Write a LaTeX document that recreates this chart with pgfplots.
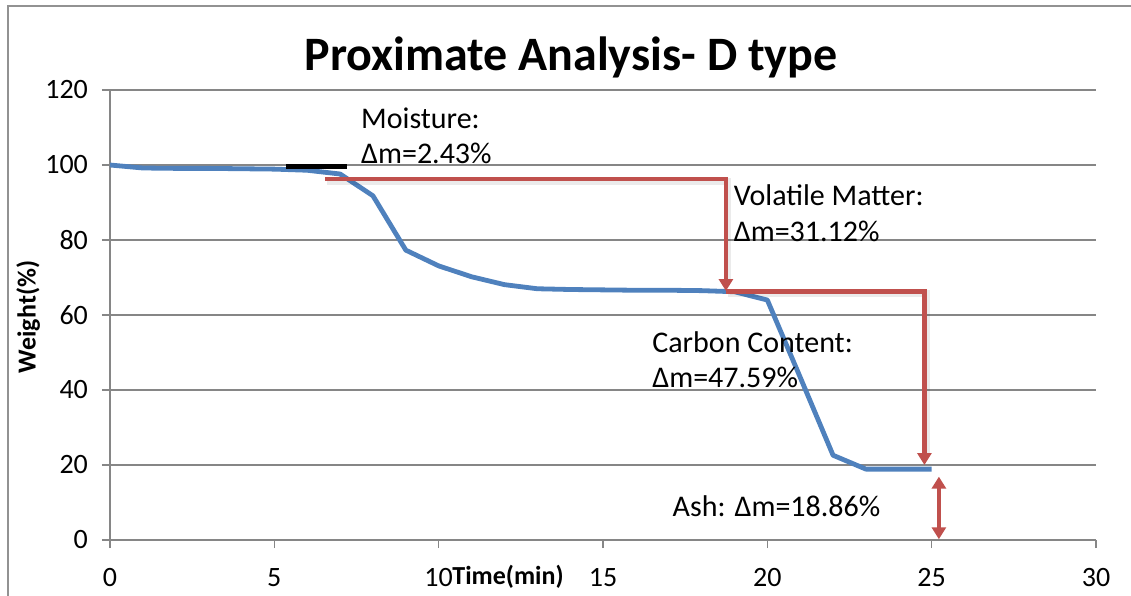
\documentclass[border=0pt]{standalone}
\usepackage{fontspec}
\setmainfont{Carlito}
\usepackage{pgfplots}
\pgfplotsset{compat=1.18}
\usetikzlibrary{arrows.meta}
\definecolor{exblue}{HTML}{4F81BD}
\definecolor{exred}{HTML}{C0504D}
\definecolor{gridgray}{HTML}{868686}
\begin{document}
\begin{tikzpicture}
\begin{scope}[x=0.5pt,y=-0.5pt]
\useasboundingbox (0,0) rectangle (1131,593);
\draw[gridgray!90, line width=1pt] (8,700) -- (8,6) -- (1200,6);
\node[font=\fontsize{24}{28}\selectfont\bfseries] at (571,57) {Proximate Analysis- D type};
\end{scope}
\begin{axis}[
  at={(55pt,-270pt)}, anchor=south west,
  scale only axis, width=493pt, height=225pt,
  xmin=0, xmax=30, ymin=0, ymax=120,
  xtick={0,5,...,30}, ytick={0,20,...,120},
  axis x line=bottom, axis y line=left,
  axis line style={-, gridgray, line width=0.8pt},
  tick style={gridgray, line width=0.8pt},
  tick align=outside, major tick length=4pt,
  ymajorgrids, grid style={gridgray, line width=0.7pt},
  /pgf/number format/assume math mode=true,
  ticklabel style={font=\fontsize{14}{16}\selectfont},
  xticklabel style={yshift=-6.5pt},
  yticklabel style={xshift=-3.5pt},
  xlabel={Time(min)}, ylabel={Weight(\%)},
  label style={font=\fontsize{13}{15}\selectfont\bfseries},
  xlabel style={at={(axis description cs:0.4037,-0.082)}, anchor=center},
  ylabel style={at={(axis description cs:-0.083,0.4956)}, anchor=center},
  clip=false,
]
\addplot[exblue, line width=2.4pt, line join=round] coordinates {
(0,100) (1,99.2) (2,99.1) (3,99.1) (4,99.0) (5,98.9) (6,98.6) (7,97.6)
(8,91.8) (9,77.3) (10,73.1) (11,70.2) (12,68.1) (13,67.0) (14,66.8)
(15,66.7) (16,66.6) (17,66.6) (18,66.5) (19,66.2) (20,64.0) (21,43.4)
(22,22.6) (23,18.9) (24,18.9) (25,18.9)};
\addplot[black, line width=2.5pt] coordinates {(5.36,99.55) (7.2,99.55)};
% shadows
\addplot[black, opacity=0.08, line width=3.5pt, xshift=0.8pt, yshift=-1.2pt] coordinates {(6.55,96.3) (18.74,96.3) (18.74,70)};
\addplot[black, opacity=0.08, line width=3.5pt, xshift=0.8pt, yshift=-1.2pt] coordinates {(18.74,66.3) (24.78,66.3) (24.78,23)};
% arrows
\addplot[exred, line width=2.3pt, line join=miter, -{Triangle[width=7pt,length=6pt]}] coordinates {(6.55,96.3) (18.74,96.3) (18.74,66.4)};
\addplot[exred, line width=2.3pt, line join=miter, -{Triangle[width=7pt,length=6pt]}] coordinates {(18.74,66.3) (24.78,66.3) (24.78,20.0)};
\addplot[exred, line width=2.3pt, {Triangle[width=7pt,length=6pt]}-{Triangle[width=7pt,length=6pt]}] coordinates {(25.22,16.9) (25.22,0.2)};
% annotations
\begin{scope}[every node/.style={anchor=base west, inner sep=0pt, font=\fontsize{15}{17}\selectfont}]
\node at (axis cs:7.63,109.8) {Moisture:};
\node at (axis cs:7.63,100.4) {Δm=2.43\%};
\node at (axis cs:18.97,89.1) {Volatile Matter:};
\node at (axis cs:18.97,79.6) {Δm=31.12\%};
\node at (axis cs:16.49,49.96) {Carbon Content:};
\node at (axis cs:16.49,40.7) {Δm=47.59\%};
\node at (axis cs:17.11,6.2) {Ash: Δm=18.86\%};
\end{scope}
\end{axis}
\end{tikzpicture}
\end{document}
